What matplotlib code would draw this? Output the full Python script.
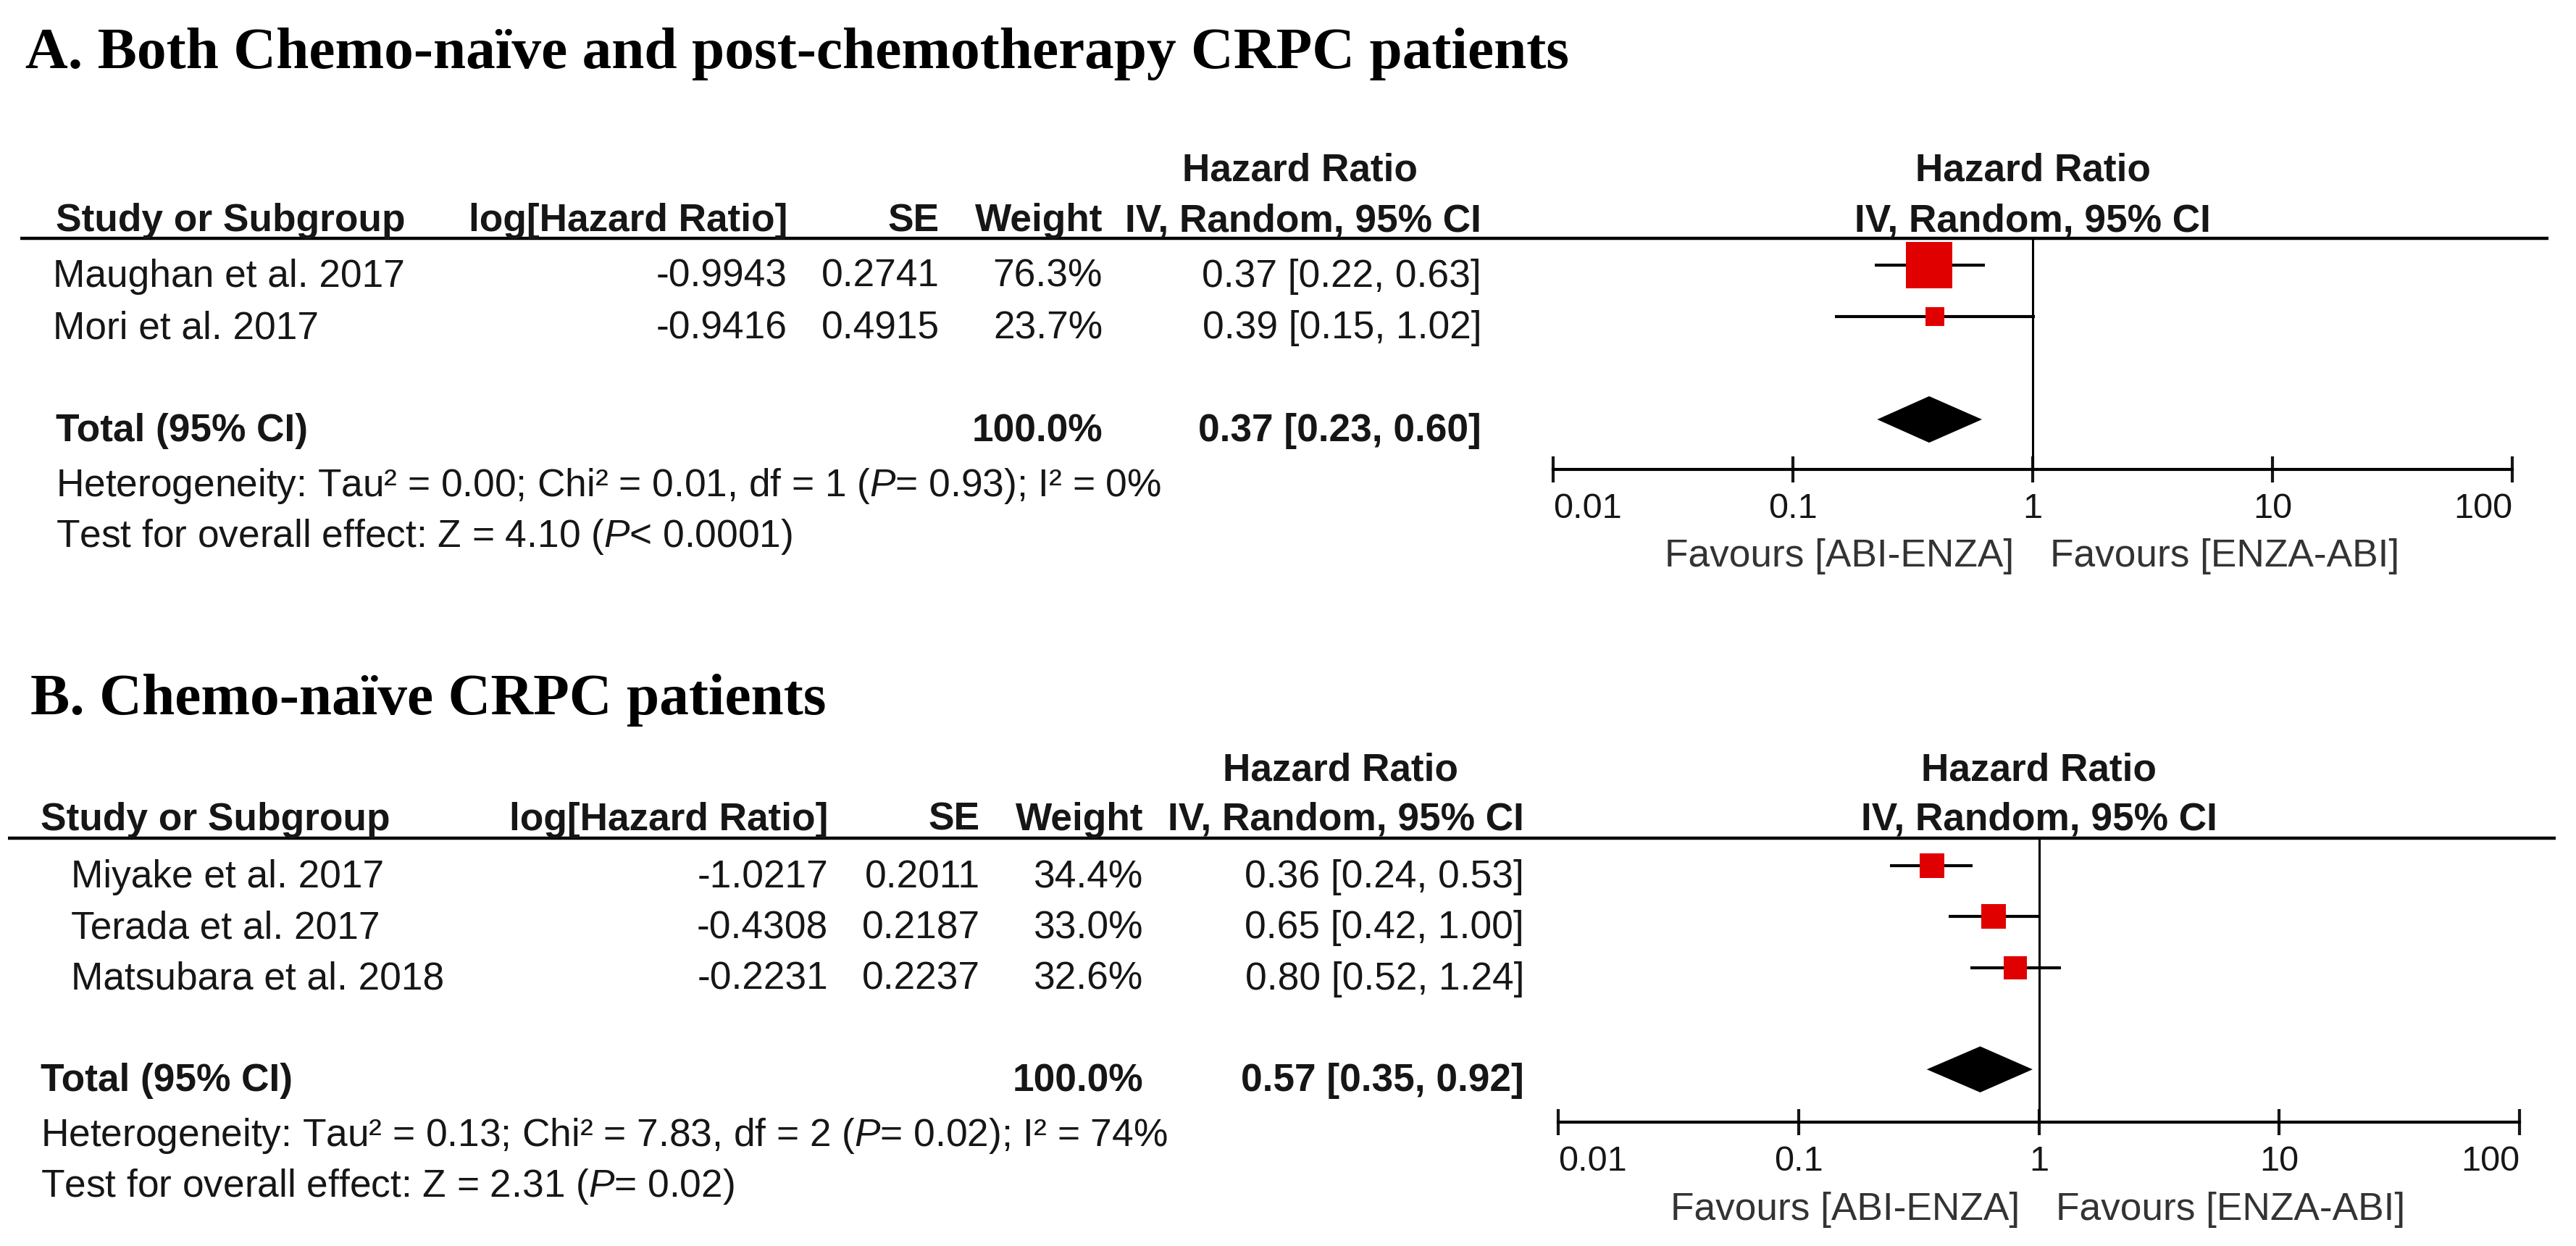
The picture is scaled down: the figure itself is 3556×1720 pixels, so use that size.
import matplotlib
matplotlib.use("Agg")
import numpy as np
import matplotlib.pyplot as plt
from matplotlib.patches import Polygon
from matplotlib.ticker import FixedLocator, FixedFormatter, NullLocator

plt.rcParams['font.family'] = ['Liberation Sans', 'DejaVu Sans']
plt.rcParams['mathtext.fontset'] = 'custom'
plt.rcParams['mathtext.rm'] = 'Liberation Sans'
plt.rcParams['mathtext.it'] = 'Liberation Sans:italic'

# ---- data: panel A (chemo-naive + post-chemo) ----
studies_a = ['Maughan et al. 2017', 'Mori et al. 2017']
loghr_a = [-0.9943, -0.9416]
se_a = [0.2741, 0.4915]
weight_a = [76.3, 23.7]
hr_a = [0.37, 0.39]
lo_a = [0.22, 0.15]
hi_a = [0.63, 1.02]
total_a = [0.37, 0.23, 0.60]
het_a = r"Heterogeneity: Tau² = 0.00; Chi² = 0.01, df = 1 ($P$= 0.93); I² = 0%"
test_a = r"Test for overall effect: Z = 4.10 ($P$< 0.0001)"

# ---- data: panel B (chemo-naive) ----
studies_b = ['Miyake et al. 2017', 'Terada et al. 2017', 'Matsubara et al. 2018']
loghr_b = [-1.0217, -0.4308, -0.2231]
se_b = [0.2011, 0.2187, 0.2237]
weight_b = [34.4, 33.0, 32.6]
hr_b = [0.36, 0.65, 0.80]
lo_b = [0.24, 0.42, 0.52]
hi_b = [0.53, 1.00, 1.24]
total_b = [0.57, 0.35, 0.92]
het_b = r"Heterogeneity: Tau² = 0.13; Chi² = 7.83, df = 2 ($P$= 0.02); I² = 74%"
test_b = r"Test for overall effect: Z = 2.31 ($P$= 0.02)"

tick_vals = [0.01, 0.1, 1, 10, 100]
tick_labels = ['0.01', '0.1', '1', '10', '100']
favours = ['Favours [ABI-ENZA]', 'Favours [ENZA-ABI]']

W, H = 3556, 1720
DPI = 200
RED = '#e00000'
TXT = '#161616'
FS = 19.2

fig = plt.figure(figsize=(W / DPI, H / DPI), dpi=DPI)
bg = fig.add_axes([0, 0, 1, 1])
bg.set_xlim(0, W)
bg.set_ylim(H, 0)
bg.axis('off')


def draw_panel(title, title_x, title_y, studies, loghr, se, weight, hr, lo, hi,
               total, het, test, x_study_hdr, x_study, x_log, x_se, x_wt, x_ci,
               x_hr_hdr, line_x0, line_x1, y_hr_hdr, y_hdr, y_line,
               row0, step, total_row, y_axis, y_fav, f_left, f_right):
    bg.text(title_x, title_y, title, family='Liberation Serif',
            weight='bold', fontsize=29.3, color='black', va='baseline')

    # column headers
    hb = dict(fontsize=FS, weight='bold', color=TXT, va='baseline')
    bg.text(x_hr_hdr, y_hr_hdr, 'Hazard Ratio', ha='center', **hb)
    bg.text(x_study_hdr, y_hdr, 'Study or Subgroup', ha='left', **hb)
    bg.text(x_log, y_hdr, 'log[Hazard Ratio]', ha='right', **hb)
    bg.text(x_se, y_hdr, 'SE', ha='right', **hb)
    bg.text(x_wt, y_hdr, 'Weight', ha='right', **hb)
    bg.text(x_ci, y_hdr, 'IV, Random, 95% CI', ha='right', **hb)
    fmid = (f_left + f_right) / 2
    bg.text(fmid, y_hr_hdr, 'Hazard Ratio', ha='center', **hb)
    bg.text(fmid, y_hdr, 'IV, Random, 95% CI', ha='center', **hb)
    bg.plot([line_x0, line_x1], [y_line, y_line], color='black', lw=1.6,
            solid_capstyle='butt')

    # study rows
    tr = dict(fontsize=FS, color=TXT, va='baseline')
    for i, name in enumerate(studies):
        yb = row0 + i * step + 30
        bg.text(x_study, yb, name, ha='left', **tr)
        bg.text(x_log, yb, f"{loghr[i]:.4f}", ha='right', **tr)
        bg.text(x_se, yb, f"{se[i]:.4f}", ha='right', **tr)
        bg.text(x_wt, yb, f"{weight[i]:.1f}%", ha='right', **tr)
        bg.text(x_ci, yb, f"{hr[i]:.2f} [{lo[i]:.2f}, {hi[i]:.2f}]", ha='right', **tr)

    yt = row0 + total_row * step + 30
    bg.text(x_study_hdr, yt, 'Total (95% CI)', ha='left', weight='bold', **tr)
    bg.text(x_wt, yt, f"{sum(weight):.1f}%", ha='right', weight='bold', **tr)
    bg.text(x_ci, yt, f"{total[0]:.2f} [{total[1]:.2f}, {total[2]:.2f}]",
            ha='right', weight='bold', **tr)
    bg.text(x_study_hdr, yt + 76, het, ha='left', **tr)
    bg.text(x_study_hdr, yt + 146, test, ha='left', **tr)

    # forest plot axes
    top_row = (y_line - row0) / step
    bot_row = (y_axis - row0) / step
    ax = fig.add_axes([f_left / W, 1 - y_axis / H, (f_right - f_left) / W,
                       (y_axis - y_line) / H])
    ax.set_xscale('log')
    ax.set_xlim(0.01, 100)
    ax.set_ylim(bot_row, top_row)
    ax.patch.set_alpha(0)
    for s in ['top', 'left', 'right']:
        ax.spines[s].set_visible(False)
    ax.spines['bottom'].set_linewidth(1.5)
    ax.yaxis.set_visible(False)
    ax.xaxis.set_major_locator(FixedLocator(tick_vals))
    ax.xaxis.set_major_formatter(FixedFormatter(tick_labels))
    ax.xaxis.set_minor_locator(NullLocator())
    ax.tick_params(axis='x', direction='inout', length=13, width=1.5,
                   labelsize=17.5, pad=5, colors=TXT)
    ticks = ax.xaxis.get_major_ticks()
    ticks[0].label1.set_horizontalalignment('left')
    ticks[-1].label1.set_horizontalalignment('right')
    ax.axvline(1, color='black', lw=1.1)

    for i in range(len(studies)):
        ax.plot([lo[i], hi[i]], [i, i], color='black', lw=1.5, solid_capstyle='butt')
        side = (10 + 0.7 * weight[i]) * 72 / DPI
        ax.plot(hr[i], i, marker='s', ms=side, color=RED, mec=RED, mew=0)

    dh = 0.43
    est, dlo, dhi = total
    ax.add_patch(Polygon([(dlo, total_row), (est, total_row - dh),
                          (dhi, total_row), (est, total_row + dh)],
                         closed=True, color='black'))

    # "Favours" captions either side of the null line
    x_null = f_left + (np.log10(1) + 2) / 4 * (f_right - f_left)
    bg.text(x_null - 26, y_fav, favours[0], ha='right', va='baseline',
            fontsize=FS, color='#333333')
    bg.text(x_null + 24, y_fav, favours[1], ha='left', va='baseline',
            fontsize=FS, color='#333333')
    return ax


draw_panel('A. Both Chemo-naïve and post-chemotherapy CRPC patients', 35, 94,
           studies_a, loghr_a, se_a, weight_a, hr_a, lo_a, hi_a, total_a,
           het_a, test_a,
           x_study_hdr=77, x_study=73, x_log=1087, x_se=1297, x_wt=1522,
           x_ci=2045, x_hr_hdr=1795, line_x0=28, line_x1=3518,
           y_hr_hdr=250, y_hdr=319, y_line=329, row0=366, step=71,
           total_row=3, y_axis=648, y_fav=782, f_left=2144, f_right=3468)

draw_panel('B. Chemo-naïve CRPC patients', 42, 986,
           studies_b, loghr_b, se_b, weight_b, hr_b, lo_b, hi_b, total_b,
           het_b, test_b,
           x_study_hdr=56, x_study=98, x_log=1143, x_se=1353, x_wt=1578,
           x_ci=2104, x_hr_hdr=1850, line_x0=11, line_x1=3528,
           y_hr_hdr=1078, y_hdr=1146, y_line=1157, row0=1195, step=70.3,
           total_row=4, y_axis=1549, y_fav=1684, f_left=2151, f_right=3478)

fig.savefig('out.png', dpi=DPI)
